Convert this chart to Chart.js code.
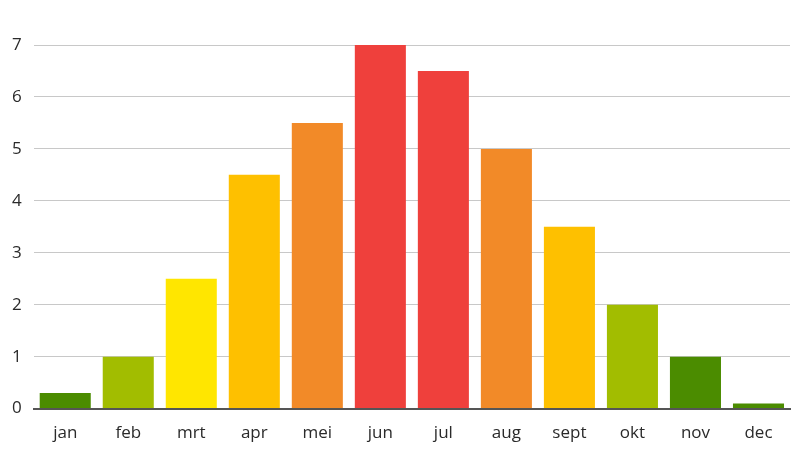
<!DOCTYPE html>
<html>
<head>
<meta charset="utf-8">
<script src="https://cdn.jsdelivr.net/npm/chart.js@4"></script>
<style>
  html, body { margin: 0; padding: 0; background: #fff; }
  #wrap { width: 800px; height: 450px; }
</style>
</head>
<body>
<div id="wrap"><canvas id="maandChart"></canvas></div>
<script>
const months = ["jan", "feb", "mrt", "apr", "mei", "jun", "jul", "aug", "sept", "okt", "nov", "dec"];
const values = [0.3, 1, 2.5, 4.5, 5.5, 7, 6.5, 5, 3.5, 2, 1, 0.1];
const barColors = [
  "#4b8c00", "#a2bd00", "#ffe600", "#fec000", "#f28a28", "#ef403c",
  "#ef403c", "#f28a28", "#fec000", "#a2bd00", "#4b8c00", "#4b8c00",
];
const yTicks = [0, 1, 2, 3, 4, 5, 6, 7];

const ctx = document.getElementById("maandChart");

new Chart(ctx, {
  type: "bar",
  data: {
    labels: months,
    datasets: [
      {
        data: values,
        backgroundColor: barColors,
        borderWidth: 0,
        categoryPercentage: 1,
        barPercentage: 0.81,
      },
    ],
  },
  options: {
    responsive: true,
    maintainAspectRatio: false,
    animation: false,
    layout: { padding: { top: 45, right: 10, left: 0, bottom: 1 } },
    plugins: { legend: { display: false }, tooltip: { enabled: false } },
    scales: {
      x: {
        grid: { display: false },
        border: { color: "#555", width: 2 },
        ticks: { color: "#2a2a2a", font: { family: "Open Sans", size: 17 }, padding: 6 },
      },
      y: {
        min: 0,
        max: 7,
        afterBuildTicks: (axis) => { axis.ticks = yTicks.map((v) => ({ value: v })); },
        grid: { color: "#c8c8c8", lineWidth: 1, drawTicks: false },
        border: { display: false },
        ticks: { color: "#2a2a2a", font: { family: "Open Sans", size: 17 }, padding: 12 },
      },
    },
  },
});
</script>
</body>
</html>
